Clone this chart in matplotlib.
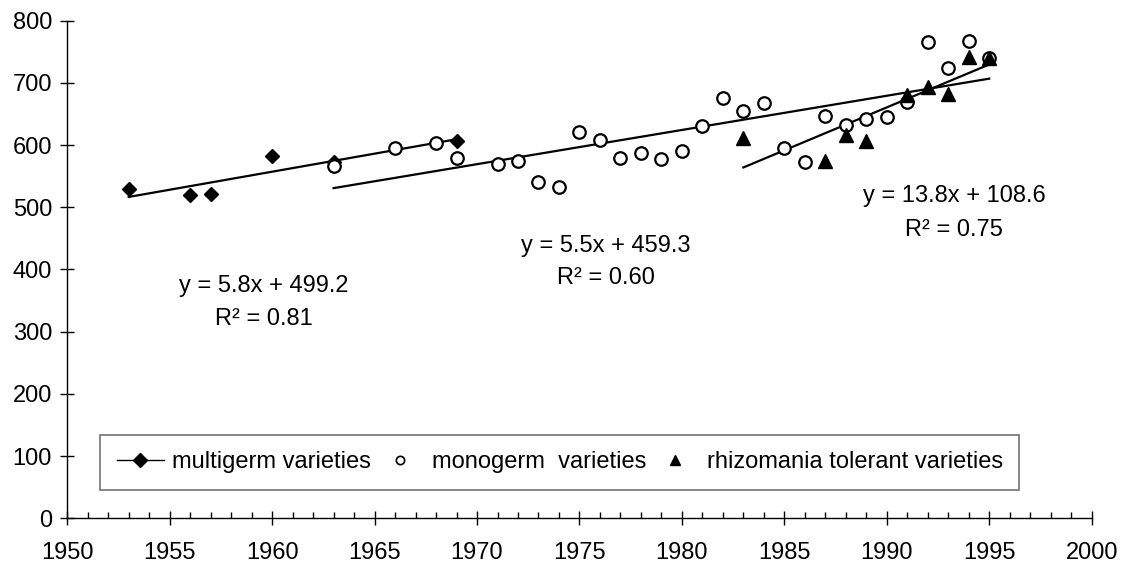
import matplotlib.pyplot as plt
import numpy as np
from matplotlib.ticker import MultipleLocator

plt.rcParams['font.family'] = ['Liberation Sans', 'DejaVu Sans']

## values
multi_years = [1953, 1956, 1957, 1960, 1963, 1969]
multi_vals = [529, 520, 521, 582, 573, 607]

mono_years = [1963, 1966, 1968, 1969, 1971, 1972, 1973, 1974, 1975, 1976,
              1977, 1978, 1979, 1980, 1981, 1982, 1983, 1984, 1985, 1986,
              1987, 1988, 1989, 1990, 1991, 1992, 1993, 1994, 1995]
mono_vals = [566, 596, 603, 580, 569, 574, 540, 533, 621, 608,
             580, 588, 578, 590, 630, 675, 654, 668, 595, 573,
             647, 633, 642, 645, 670, 766, 724, 768, 740]

rhizo_years = [1983, 1987, 1988, 1989, 1991, 1992, 1993, 1994, 1995]
rhizo_vals = [611, 574, 616, 606, 681, 693, 682, 741, 740]

## trendline coefficients as printed on the chart (x = year - 1950)
trend_slopes = [5.8, 5.5, 13.8]
trend_icepts = [499.2, 459.3, 108.6]
trend_r2 = ['0.81', '0.60', '0.75']
trend_labelpos = [(1959.6, 374, 320), (1976.3, 438, 387), (1993.3, 518, 463)]

fig = plt.figure(figsize=(11.23, 5.65), dpi=100)
ax = fig.add_axes([0.0599, 0.0827, 0.9122, 0.8807])

## trendlines over each series range
for yrs, k, b in zip([multi_years, mono_years, rhizo_years], trend_slopes, trend_icepts):
    xs = np.array([min(yrs), max(yrs)])
    ax.plot(xs, k * (xs - 1950) + b, color='black', linewidth=1.6, zorder=2)

ax.plot(multi_years, multi_vals, linestyle='none', marker='D', markersize=7.5,
        color='black', zorder=3)
ax.plot(mono_years, mono_vals, linestyle='none', marker='o', markersize=9,
        markerfacecolor='white', markeredgecolor='black', markeredgewidth=1.6, zorder=3)
ax.plot(rhizo_years, rhizo_vals, linestyle='none', marker='^', markersize=10,
        color='black', zorder=4)

for (tx, ty1, ty2), k, b, r2 in zip(trend_labelpos, trend_slopes, trend_icepts, trend_r2):
    ax.text(tx, ty1, 'y = %.1fx + %.1f' % (k, b), ha='center', va='center', fontsize=17)
    ax.text(tx, ty2, 'R² = ' + r2, ha='center', va='center', fontsize=17)

## legend handles (small markers like the original)
h1, = ax.plot([], [], color='black', linewidth=1, marker='D', markersize=7)
h2, = ax.plot([], [], linestyle='none', marker='o', markersize=6,
              markerfacecolor='white', markeredgecolor='black', markeredgewidth=1.2)
h3, = ax.plot([], [], linestyle='none', marker='^', markersize=7, color='black')
leg = ax.legend([h1, h2, h3],
                ['multigerm varieties', 'monogerm  varieties', 'rhizomania tolerant varieties'],
                ncol=3, loc='center', bbox_to_anchor=(0.0205, 0.0603, 0.9205, 0.1037),
                mode='expand', fontsize=17, frameon=True, fancybox=False,
                handlelength=2.0, handletextpad=0.35, columnspacing=1.0,
                borderpad=0.7)
leg.get_frame().set_edgecolor('#505050')
leg.get_frame().set_linewidth(1.2)

ax.set_xlim(1950, 2000)
ax.set_ylim(0, 800)
ax.xaxis.set_major_locator(MultipleLocator(5))
ax.xaxis.set_minor_locator(MultipleLocator(1))
ax.yaxis.set_major_locator(MultipleLocator(100))

for s in ['top', 'right']:
    ax.spines[s].set_visible(False)
ax.spines['left'].set_linewidth(1)
ax.spines['bottom'].set_linewidth(1)

ax.tick_params(axis='both', which='major', direction='inout', length=10, width=1,
               labelsize=17)
ax.tick_params(axis='x', which='major', pad=12)
ax.tick_params(axis='y', which='major', pad=6)
ax.tick_params(axis='x', which='minor', direction='in', length=4, width=1)

fig.savefig('out.png', dpi=100)
